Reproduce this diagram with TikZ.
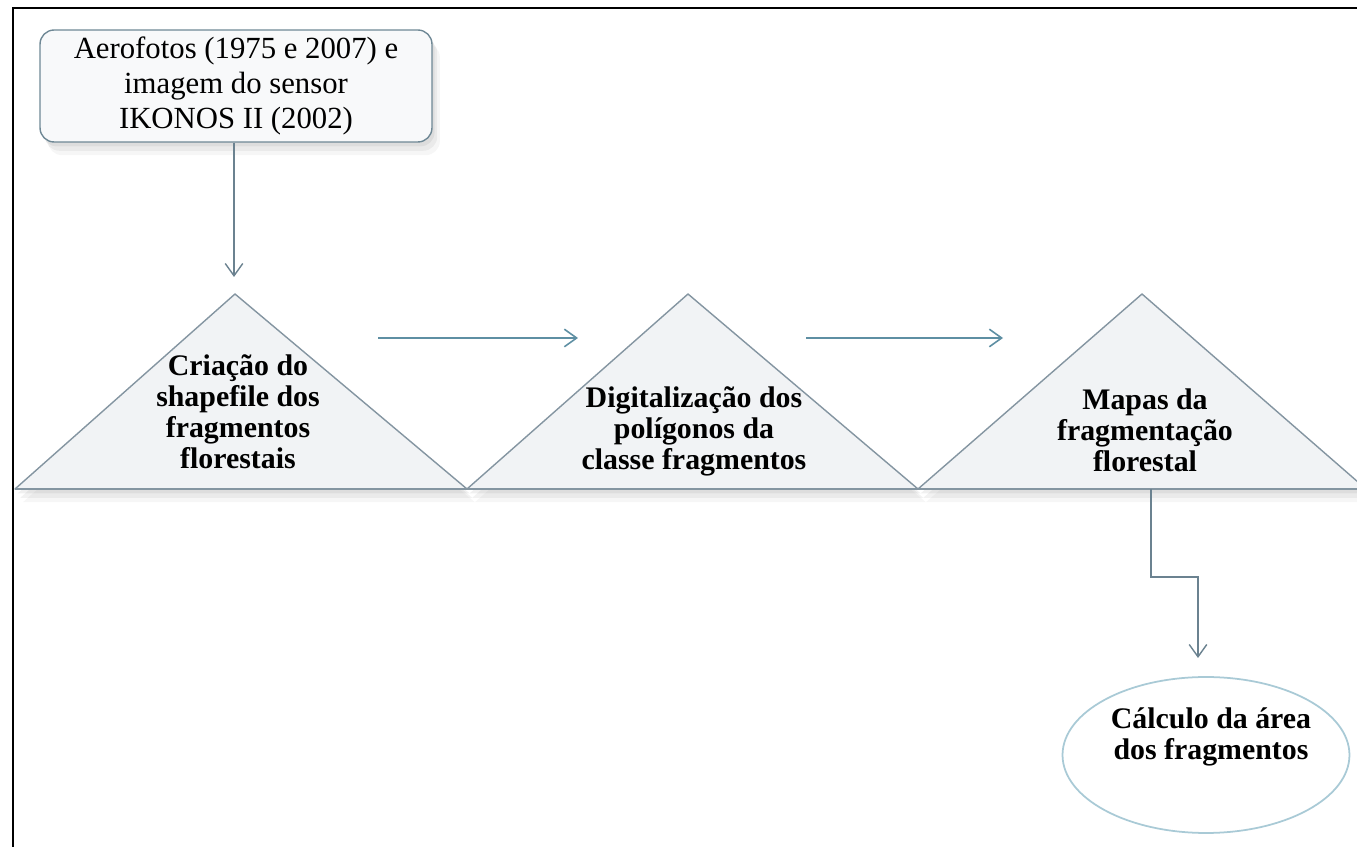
\documentclass[tikz,border=0pt]{standalone}
\usepackage{fontspec}
\setmainfont{Liberation Serif}
\usetikzlibrary{arrows.meta, positioning, shapes.geometric, shadows}
\definecolor{flowcol}{HTML}{5E8FA3}
\definecolor{linkcol}{HTML}{6B8290}
\definecolor{tricol} {HTML}{8495A1}
\definecolor{trifill}{HTML}{F1F3F5}
\definecolor{boxcol} {HTML}{6F8895}
\definecolor{boxfill}{HTML}{F8F9FA}
\definecolor{ellcol} {HTML}{A9CAD6}
\tikzset{
  softshade/.style={drop shadow={opacity=0.12, shadow xshift=1.5pt, shadow yshift=-2.5pt},
                    drop shadow={opacity=0.10, shadow xshift=3pt, shadow yshift=-5pt},
                    drop shadow={opacity=0.07, shadow xshift=4.5pt, shadow yshift=-7.5pt}},
  srcbox/.style={rectangle, rounded corners=8pt, draw=boxcol, fill=boxfill, line width=0.8pt,
                 minimum width=7.84cm, minimum height=2.24cm, align=center, softshade,
                 font=\fontsize{17.5}{20}\selectfont},
  tri/.style={draw=tricol, fill=trifill, line width=0.8pt, line join=round, softshade},
  steptext/.style={align=center, font=\fontsize{17}{17.6}\selectfont\bfseries, inner sep=0pt},
  endell/.style={ellipse, draw=ellcol, fill=white, line width=1pt, minimum width=5.74cm, minimum height=3.12cm},
  flow/.style={-{Straight Barb[length=7pt, width=10pt]}, draw=flowcol, line width=0.9pt},
  link/.style={-{Straight Barb[length=7pt, width=10pt]}, draw=linkcol, line width=0.8pt},
}

\begin{document}
\begin{tikzpicture}[x=0.02cm, y=-0.02cm]
  \useasboundingbox (0,0) rectangle (1357,847);
  % ── frame ─────────────────────────────────────────────────────────
  \draw[line width=1pt] (13,847) -- (13,8) -- (1357,8);
  % ── source box ────────────────────────────────────────────────────
  \node[srcbox] (aero) at (236,86) {Aerofotos (1975 e 2007) e\\imagem do sensor\\IKONOS II (2002)};
  % ── triangle corners ──────────────────────────────────────────────
  \coordinate (t1L) at (15,489);   \coordinate (t1A) at (235,294);
  \coordinate (t2L) at (467,489);  \coordinate (t2A) at (688,294);
  \coordinate (t3L) at (918,489);  \coordinate (t3A) at (1142,294);
  \coordinate (t3R) at (1366,489);
  \draw[tri] (t1L) -- (t1A) -- (t2L) -- cycle;
  \draw[tri] (t2L) -- (t2A) -- (t3L) -- cycle;
  \draw[tri] (t3L) -- (t3A) -- (t3R) -- cycle;
  \draw[draw=tricol, line width=0.9pt] (t1L) -- (t3R);
  % ── step texts ────────────────────────────────────────────────────
  \node[steptext] (crea) at (238,412) {Criação do\\shapefile dos\\fragmentos\\florestais};
  \node[steptext] (digi) at (694,431) {Digitalização dos\\polígonos da\\classe fragmentos};
  \node[steptext] (mapa) at (1145,430) {Mapas da\\fragmentação\\florestal};
  % ── end ellipse ───────────────────────────────────────────────────
  \node[endell] (calc) at (1206,755) {};
  \node[steptext] (calctxt) at (1211,737) {Cálculo da área\\dos fragmentos};
  % ── connectors ────────────────────────────────────────────────────
  \coordinate (inTop) at (234,277);
  \draw[link] (aero.south -| inTop) -- (inTop);
  \coordinate (a1s) at (378,338);  \coordinate (a1e) at (578,338);
  \coordinate (a2s) at (806,338);  \coordinate (a2e) at (1003,338);
  \draw[flow] (a1s) -- (a1e);
  \draw[flow] (a2s) -- (a2e);
  \coordinate (t3b)  at (1151,489);
  \coordinate (kink) at (1198,577);
  \coordinate (inEnd) at (1198,658);
  \draw[link] (t3b) |- (kink) -- (inEnd);
\end{tikzpicture}
\end{document}
